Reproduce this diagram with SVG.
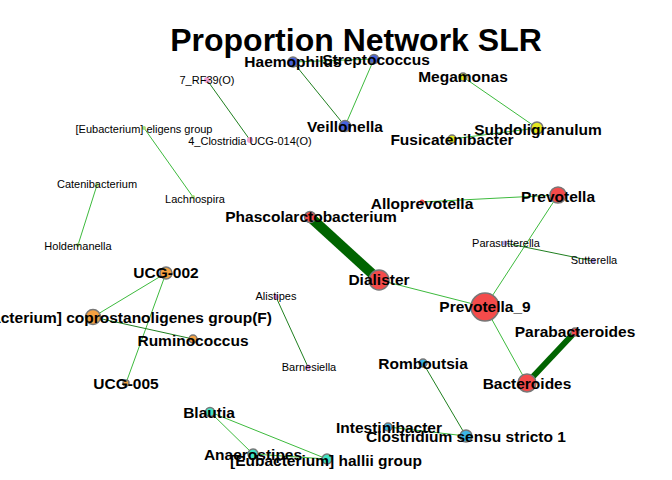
<svg xmlns="http://www.w3.org/2000/svg" width="672" height="480" viewBox="0 0 672 480">
<style>
.e{stroke:#3dba3d;stroke-width:1;fill:none}
.d{stroke:#1f7f1f;stroke-width:1;fill:none}
.t{stroke:#006400;fill:none}
.n{stroke:#777777;stroke-width:1.5}
.s{stroke:none}
.b{font-family:"Liberation Sans",Arial,sans-serif;font-weight:bold;font-size:15.5px;text-anchor:middle;fill:#000}
.r{font-family:"Liberation Sans",Arial,sans-serif;font-size:11px;text-anchor:middle;fill:#000}
.title{font-family:"Liberation Sans",Arial,sans-serif;font-weight:bold;font-size:32px;text-anchor:middle;fill:#000}
.blue{fill:#4762de}.yel{fill:#e4e81e}.red{fill:#f44b4b}.lb{fill:#3db6e6}.aq{fill:#40e2c2}.or{fill:#f5a142}.pk{fill:#f0a0d0}.lg{fill:#a8e07c}.lv{fill:#b8a2ee}.mg{fill:#d98ad9}
</style>
<rect width="672" height="480" fill="#ffffff"/>
<text class="title" x="356" y="51">Proportion Network SLR</text>
<g id="edges">
<line class="e" x1="293" y1="62" x2="374" y2="59"/>
<line class="d" x1="293" y1="62" x2="345" y2="126"/>
<line class="e" x1="374" y1="59" x2="345" y2="126"/>
<line class="e" x1="463" y1="77" x2="537" y2="128"/>
<line class="e" x1="452" y1="139" x2="537" y2="128"/>
<line class="e" x1="422" y1="202" x2="558" y2="195"/>
<line class="e" x1="558" y1="195" x2="485" y2="307"/>
<line class="d" x1="505" y1="243" x2="593" y2="261"/>
<line class="t" stroke-width="10" x1="310" y1="217" x2="379" y2="280"/>
<line class="e" x1="379" y1="280" x2="485" y2="307"/>
<line class="e" x1="485" y1="307" x2="527" y2="383"/>
<line class="t" stroke-width="6" x1="575" y1="332" x2="527" y2="383"/>
<line class="d" x1="423" y1="363" x2="466" y2="436"/>
<line class="e" x1="388" y1="427" x2="466" y2="436"/>
<line class="e" x1="210" y1="412" x2="253" y2="454"/>
<line class="e" x1="210" y1="412" x2="327" y2="459"/>
<line class="e" x1="253" y1="454" x2="327" y2="459"/>
<line class="e" x1="166" y1="273" x2="93" y2="317"/>
<line class="e" x1="166" y1="273" x2="126" y2="383"/>
<line class="d" x1="93" y1="317" x2="193" y2="339"/>
<line class="d" x1="276" y1="297" x2="308" y2="367"/>
<line class="d" x1="207" y1="80" x2="250" y2="140"/>
<line class="e" x1="144" y1="128" x2="193" y2="197"/>
<line class="e" x1="97" y1="185" x2="78" y2="245"/>
</g>
<g id="n-haemophilus"><circle class="n blue" cx="293" cy="62" r="5"/><text class="b" x="293" y="67">Haemophilus</text></g>
<g id="n-streptococcus"><circle class="n blue" cx="374" cy="59" r="4.5"/><text class="b" x="376" y="65">Streptococcus</text></g>
<g id="n-veillonella"><circle class="n blue" cx="345" cy="126" r="5.5"/><text class="b" x="345" y="132">Veillonella</text></g>
<g id="n-megamonas"><circle class="n yel" cx="463" cy="77" r="4"/><text class="b" x="463" y="82">Megamonas</text></g>
<g id="n-subdoligranulum"><circle class="n yel" cx="537" cy="128" r="6"/><text class="b" x="538" y="135">Subdoligranulum</text></g>
<g id="n-fusicatenibacter"><circle class="n yel" cx="452" cy="139" r="4"/><text class="b" x="452" y="145">Fusicatenibacter</text></g>
<g id="n-prevotella"><circle class="n red" cx="558" cy="195" r="8"/><text class="b" x="558" y="202">Prevotella</text></g>
<g id="n-alloprevotella"><circle class="s red" cx="422" cy="202" r="2.5"/><text class="b" x="422" y="209">Alloprevotella</text></g>
<g id="n-parasutterella"><circle class="s lv" cx="505" cy="243" r="2.5"/><text class="r" x="506" y="247">Parasutterella</text></g>
<g id="n-sutterella"><circle class="s lv" cx="593" cy="261" r="2.5"/><text class="r" x="594" y="264">Sutterella</text></g>
<g id="n-phascolarctobacterium"><circle class="n red" cx="310" cy="217" r="5.5"/><text class="b" x="311" y="222">Phascolarctobacterium</text></g>
<g id="n-dialister"><circle class="n red" cx="379" cy="280" r="10"/><text class="b" x="379" y="285">Dialister</text></g>
<g id="n-prevotella9"><circle class="n red" cx="485" cy="307" r="14"/><text class="b" x="485" y="312">Prevotella_9</text></g>
<g id="n-parabacteroides"><circle class="n red" cx="575" cy="332" r="4"/><text class="b" x="575" y="337">Parabacteroides</text></g>
<g id="n-bacteroides"><circle class="n red" cx="527" cy="383" r="9"/><text class="b" x="527" y="389">Bacteroides</text></g>
<g id="n-romboutsia"><circle class="n lb" cx="423" cy="363" r="4"/><text class="b" x="423" y="369">Romboutsia</text></g>
<g id="n-intestinibacter"><circle class="n lb" cx="388" cy="427" r="4"/><text class="b" x="389" y="433">Intestinibacter</text></g>
<g id="n-clostridium"><circle class="n lb" cx="466" cy="436" r="6"/><text class="b" x="466" y="442">Clostridium sensu stricto 1</text></g>
<g id="n-blautia"><circle class="n aq" cx="210" cy="412" r="4.5"/><text class="b" x="209" y="418">Blautia</text></g>
<g id="n-anaerostipes"><circle class="n aq" cx="253" cy="454" r="5"/><text class="b" x="253" y="460">Anaerostipes</text></g>
<g id="n-hallii"><circle class="n aq" cx="327" cy="459" r="5"/><text class="b" x="326" y="466">[Eubacterium] hallii group</text></g>
<g id="n-ucg002"><circle class="n or" cx="166" cy="273" r="6"/><text class="b" x="166" y="278">UCG-002</text></g>
<g id="n-coprostanoligenes"><circle class="n or" cx="93" cy="317" r="7.5"/><text class="b" x="272" y="323" text-anchor="end" style="text-anchor:end">[Eubacterium] coprostanoligenes group(F)</text></g>
<g id="n-ruminococcus"><circle class="n or" cx="193" cy="339" r="4"/><text class="b" x="193" y="346">Ruminococcus</text></g>
<g id="n-ucg005"><circle class="n or" cx="126" cy="383" r="3"/><text class="b" x="126" y="389">UCG-005</text></g>
<g id="n-alistipes"><circle class="s mg" cx="276" cy="297" r="2.5"/><text class="r" x="276" y="300">Alistipes</text></g>
<g id="n-barnesiella"><circle class="s mg" cx="308" cy="367" r="2.5"/><text class="r" x="309" y="371">Barnesiella</text></g>
<g id="n-rf39"><circle class="s pk" cx="207" cy="80" r="3"/><text class="r" x="207" y="84">7_RF39(O)</text></g>
<g id="n-clostridia014"><circle class="s pk" cx="250" cy="140" r="3"/><text class="r" x="250" y="145">4_Clostridia UCG-014(O)</text></g>
<g id="n-eligens"><circle class="s lg" cx="144" cy="128" r="2"/><text class="r" x="144" y="133">[Eubacterium] eligens group</text></g>
<g id="n-lachnospira"><circle class="s lg" cx="193" cy="197" r="2"/><text class="r" x="195" y="203">Lachnospira</text></g>
<g id="n-catenibacterium"><circle class="s lg" cx="97" cy="185" r="2"/><text class="r" x="97" y="188">Catenibacterium</text></g>
<g id="n-holdemanella"><circle class="s lg" cx="78" cy="245" r="2"/><text class="r" x="78" y="250">Holdemanella</text></g>
</svg>
